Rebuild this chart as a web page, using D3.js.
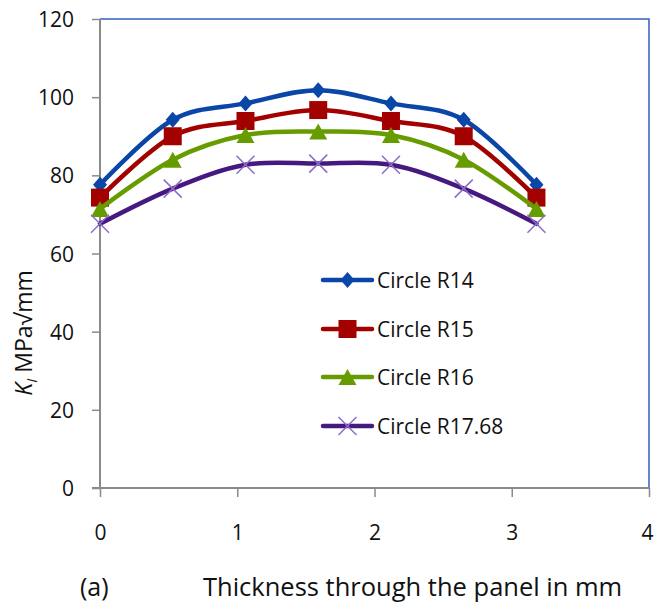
<!DOCTYPE html>
<html>
<head>
<meta charset="utf-8">
<script src="https://cdn.jsdelivr.net/npm/d3@7"></script>
<style>
  html, body { margin: 0; padding: 0; background: #ffffff; }
  svg { display: block; }
  text { font-family: "Open Sans", "DejaVu Sans", sans-serif; fill: #111111; }
</style>
</head>
<body>
<svg id="chart" width="654" height="608"></svg>
<script>
// Thickness positions through the panel (mm)
const thickness = [0, 0.53, 1.06, 1.59, 2.12, 2.65, 3.18];

// Stress intensity factor K_I (MPa√mm) for each circle radius
const circleR14    = [77.6, 94.2, 98.4, 101.8, 98.4, 94.2, 77.6];
const circleR15    = [74.3, 90.0, 93.9, 96.7, 93.9, 90.0, 74.3];
const circleR16    = [71.4, 84.0, 90.3, 91.2, 90.3, 84.0, 71.4];
const circleR1768  = [67.6, 76.6, 82.7, 83.0, 82.7, 76.6, 67.6];

const seriesNames = ["Circle R14", "Circle R15", "Circle R16", "Circle R17.68"];
const seriesValues = [circleR14, circleR15, circleR16, circleR1768];

const xTicks = [0, 1, 2, 3, 4];
const yTicks = [0, 20, 40, 60, 80, 100, 120];

const styles = [
  { line: "#0a45a8", marker: "diamond", fill: "#0a45a8", stroke: "none" },
  { line: "#a30000", marker: "square",  fill: "#a30000", stroke: "none" },
  { line: "#679c00", marker: "triangle", fill: "#679c00", stroke: "none" },
  { line: "#45197f", marker: "cross",   fill: "none",    stroke: "#8d6cc8" }
];

const svg = d3.select("#chart");
const x = d3.scaleLinear().domain([0, 4]).range([100, 649]);
const y = d3.scaleLinear().domain([0, 120]).range([488, 19]);

// Plot frame: blue top and right edges
svg.append("path")
  .attr("d", `M${x(0)},${y(120)}H${x(4)}V${y(0)}`)
  .attr("fill", "none").attr("stroke", "#2f5fc4").attr("stroke-width", 1.5);

// Y axis
const yAxis = svg.append("g")
  .attr("transform", `translate(${x(0)},0)`)
  .call(d3.axisLeft(y).tickValues(yTicks).tickSize(8).tickPadding(18));
// X axis
const xAxis = svg.append("g")
  .attr("transform", `translate(0,${y(0)})`)
  .call(d3.axisBottom(x).tickValues(xTicks).tickSize(9).tickPadding(28).tickFormat(d3.format("d")));

[yAxis, xAxis].forEach(g => {
  g.select(".domain").attr("stroke", "#8a8a8a").attr("stroke-width", 2);
  g.selectAll(".tick line").attr("stroke", "#8a8a8a").attr("stroke-width", 1.5);
  g.selectAll(".tick text")
    .style("font-family", "'Open Sans', sans-serif")
    .style("font-size", "21px").attr("fill", "#111111");
});
yAxis.selectAll(".tick text").attr("dy", "0.36em");
xAxis.selectAll(".tick text").attr("dy", "0.71em")
  .attr("dx", d => d === 4 ? -2 : 0);
yAxis.select(".domain").attr("d", `M0,${y(0) + 1}V${y(120)}`);
xAxis.select(".domain").attr("d", `M${x(0) - 8},0H${x(4)}`);

// Marker shapes
function marker(g, kind, st, cx, cy) {
  if (kind === "diamond") {
    g.append("path").attr("d", `M${cx},${cy - 8}L${cx + 7},${cy}L${cx},${cy + 8}L${cx - 7},${cy}Z`)
      .attr("fill", st.fill);
  } else if (kind === "square") {
    g.append("rect").attr("x", cx - 9).attr("y", cy - 9).attr("width", 18).attr("height", 18)
      .attr("fill", st.fill);
  } else if (kind === "triangle") {
    g.append("path").attr("d", `M${cx},${cy - 8}L${cx + 9},${cy + 8}L${cx - 9},${cy + 8}Z`)
      .attr("fill", st.fill);
  } else {
    g.append("path").attr("d", `M${cx - 9},${cy - 9}L${cx + 9},${cy + 9}M${cx - 9},${cy + 9}L${cx + 9},${cy - 9}`)
      .attr("stroke", st.stroke).attr("stroke-width", 1.5).attr("fill", "none");
  }
}

const line = d3.line()
  .x((d, i) => x(thickness[i]))
  .y(d => y(d))
  .curve(d3.curveCardinal.tension(0));

seriesValues.forEach((vals, si) => {
  const st = styles[si];
  const g = svg.append("g");
  g.append("path").attr("d", line(vals))
    .attr("fill", "none").attr("stroke", st.line)
    .attr("stroke-width", 4.5).attr("stroke-linejoin", "round").attr("stroke-linecap", "round");
  vals.forEach((v, i) => marker(g, st.marker, st, x(thickness[i]), y(v)));
});

// Legend
const legendRows = [280, 329, 377, 426];
seriesNames.forEach((name, si) => {
  const st = styles[si];
  const g = svg.append("g");
  const ry = legendRows[si];
  g.append("line").attr("x1", 323).attr("x2", 372).attr("y1", ry).attr("y2", ry)
    .attr("stroke", st.line).attr("stroke-width", 4.5).attr("stroke-linecap", "round");
  marker(g, st.marker, st, 347.5, ry);
  g.append("text").attr("x", 377).attr("y", ry + 7.5)
    .style("font-size", "21px").text(name);
});

// Axis titles
const yTitle = svg.append("text")
  .attr("transform", `translate(32,333) rotate(-90)`)
  .attr("text-anchor", "middle")
  .style("font-size", "23px");
yTitle.append("tspan").style("font-style", "italic").text("K");
yTitle.append("tspan").style("font-style", "italic").style("font-size", "15px").attr("dy", "5").text("I");
yTitle.append("tspan").attr("dy", "-5").text(" MPa√mm");

svg.append("text").attr("x", 80).attr("y", 596)
  .style("font-size", "25px").text("(a)");
svg.append("text").attr("x", 203).attr("y", 596)
  .style("font-size", "25.5px").text("Thickness through the panel in mm");
</script>
</body>
</html>
